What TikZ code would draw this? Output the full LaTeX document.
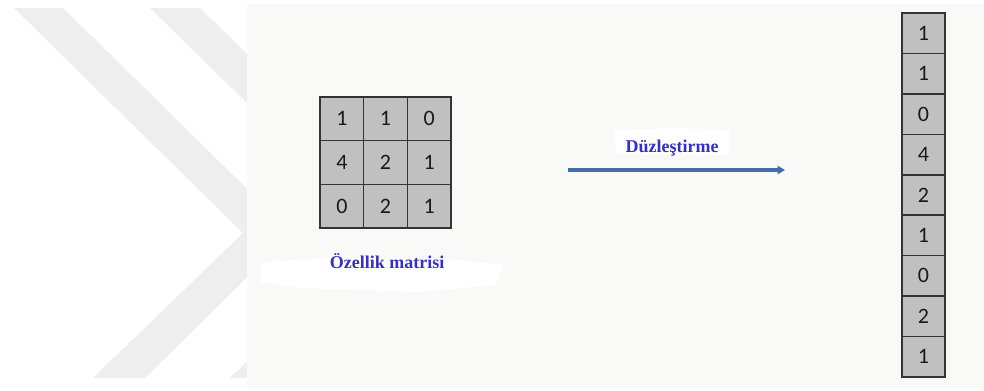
\documentclass[tikz,border=0pt]{standalone}
\usepackage{fontspec}
\setmainfont{Liberation Serif}
\newfontfamily\cellfont{Carlito}
\usepackage{xcolor}
\usetikzlibrary{arrows.meta, positioning}
\definecolor{panelgray}{RGB}{249, 249, 248}
\definecolor{chevrongray}{RGB}{238, 238, 238}
\definecolor{cellgray}{RGB}{192, 192, 192}
\definecolor{cellborder}{RGB}{52, 52, 52}
\definecolor{labelblue}{RGB}{52, 48, 200}
\definecolor{arrowblue}{RGB}{68, 108, 168}

\tikzset{
    cell/.style={draw=cellborder, line width=1.1pt, fill=cellgray, inner sep=0pt,
        minimum width=32.8pt, minimum height=32.8pt, text=black!90,
        font=\cellfont\fontsize{16.5}{17}\selectfont},
    vcell/.style={cell, minimum width=32.3pt, minimum height=30.3pt},
    caption/.style={text=labelblue, font=\bfseries\fontsize{13.5}{14}\selectfont, inner sep=0pt}
}

\begin{document}
\begin{tikzpicture}[x=0.75pt, y=-0.75pt]
    \useasboundingbox (0,0) rectangle (984,390);
    \fill[white] (0,0) rectangle (984,390);

    % Chevron bands on the left
    \begin{scope}
        \clip (0,0) rectangle (247,390);
        \fill[chevrongray] (14,8) -- (63,8) -- (292,233) -- (145,378) -- (93,378) -- (243,233) -- cycle;
        \fill[chevrongray] (150,8) -- (200,8) -- (429,233) -- (282,378) -- (230,378) -- (380,233) -- cycle;
    \end{scope}

    % Panel
    \fill[panelgray] (247,4) rectangle (984,388);

    % White patches under the captions
    \fill[white] (262,262) -- (330,258) -- (450,259) -- (503,265) -- (495,285) -- (420,292) -- (300,288) -- (260,282) -- cycle;
    \fill[white] (614,130) -- (680,128) -- (730,131) -- (728,155) -- (616,154) -- cycle;

    % Feature matrix
    \foreach \row/\vals in {1/{1,1,0}, 2/{4,2,1}, 3/{0,2,1}} {
        \foreach \v [count=\col] in \vals {
            \node[cell] (m-\row-\col) at ({320+43.67*(\col-0.5)}, {97+43.67*(\row-0.5)}) {\v};
        }
    }
    \node[caption] (featlabel) at (387,261) {Özellik matrisi};

    % Flattening arrow
    \coordinate (flatstart) at (568,170);
    \coordinate (flatend) at (785,170);
    \draw[arrowblue, line width=2.6pt, -{Triangle[length=5.5pt, width=6pt]}] (flatstart) -- (flatend);
    \node[caption] (flatlabel) at (672,148) {Düzleştirme};

    % Flattened vector
    \foreach \v [count=\i] in {1,1,0,4,2,1,0,2,1} {
        \node[vcell] (v-\i) at (923.5, {13+40.44*(\i-0.5)}) {\v};
    }
\end{tikzpicture}
\end{document}
